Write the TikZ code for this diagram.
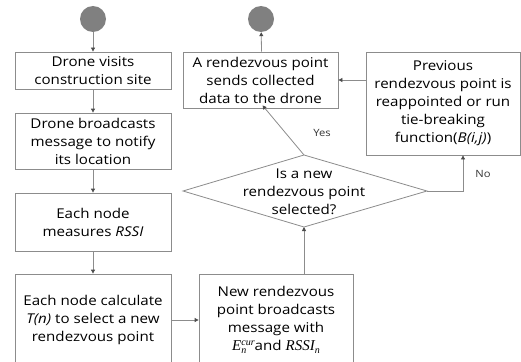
\documentclass[tikz,border=0pt]{standalone}
\usepackage{fontspec}
\setmainfont{Open Sans}[FakeStretch=1.12]
\newfontfamily\mathfnt{Liberation Serif}
\usetikzlibrary{arrows.meta,calc}
\definecolor{linegray}{HTML}{8C8C8C}
\definecolor{dotgray}{HTML}{808080}
\newcommand{\subtxt}[1]{{\fontsize{10}{10}\selectfont #1}}
\newcommand{\mtxt}[1]{{\mathfnt\itshape\fontsize{15}{18}\selectfont #1}}
\begin{document}
\begin{tikzpicture}[x=1pt,y=-1pt,
  box/.style={draw=linegray,line width=0.8pt,fill=white,align=center,inner sep=0pt,
    font=\fontsize{13.5}{18}\selectfont},
  dot/.style={circle,fill=dotgray,minimum size=26pt,inner sep=0pt},
  dectext/.style={align=center,inner sep=0pt,font=\fontsize{13.5}{18}\selectfont},
  decline/.style={draw=linegray,line width=0.8pt},
  arr/.style={draw=linegray,line width=0.8pt,-{Triangle[length=4pt,width=4pt,color=black!70]}},
  lbl/.style={font=\fontsize{10}{12}\selectfont,text=black!80}]
\useasboundingbox (0,0) rectangle (521,361);
\begin{scope}
\clip (0,0) rectangle (521,361);
\node[dot] (c1) at (93,19) {};
\node[dot] (c2) at (261,19) {};
\node[box,minimum width=156pt,minimum height=37pt] (b1) at (93,70.5) {Drone visits\\construction site};
\node[box,minimum width=156pt,minimum height=56pt] (b2) at (93,141) {Drone broadcasts\\message to notify\\its location};
\node[box,minimum width=156pt,minimum height=58pt] (b3) at (93,222) {Each node\\measures \textit{RSSI}};
\node[box,minimum width=156pt,minimum height=92pt] (b4) at (93,320) {Each node calculate\\\textit{T(n)} to select a new\\rendezvous point};
\node[box,minimum width=154pt,minimum height=92pt] (b5) at (276,320) {New rendezvous\\point broadcasts\\message with\\\mtxt{E\rlap{\raisebox{-3.5pt}{\subtxt{n}}}\raisebox{5pt}{\subtxt{cur}}}and \mtxt{RSSI\raisebox{-3.5pt}{\subtxt{n}}}};
\node[box,minimum width=155pt,minimum height=56pt] (b6) at (260.5,80) {A rendezvous point\\sends collected\\data to the drone};
\node[box,minimum width=154pt,minimum height=103pt] (b7) at (443,103.5) {Previous\\rendezvous point is\\reappointed or run\\tie-breaking\\function(\textit{B(i,j)})};
\end{scope}
\coordinate (dN) at (304,155);
\coordinate (dS) at (304,227);
\coordinate (dW) at (183,191);
\coordinate (dE) at (427,191);
\draw[decline,fill=white] (dN) -- (dE) -- (dS) -- (dW) -- cycle;
\node[dectext] (d) at (304,192) {Is a new\\rendezvous point\\selected?};
\draw[arr] (c1) -- (b1);
\draw[arr] (b1) -- (b2);
\draw[arr] (b2) -- (b3);
\draw[arr] (b3) -- (b4.north);
\draw[arr] (b4.east |- 0,320) -- (b5.west |- 0,320);
\draw[arr] (dS |- b5.north) -- (dS);
\draw[arr] (dN) -- ([xshift=2pt,yshift=3pt]b6.south);
\draw[arr] (dE) -| ([xshift=20pt]b7.south);
\draw[arr] (b7.west |- b6.east) -- (b6.east);
\draw[arr] ([xshift=1pt]b6.north) -- (c2);
\node[lbl] (yes) at (322,133) {Yes};
\node[lbl] (no) at (483,174) {No};
\end{tikzpicture}
\end{document}
